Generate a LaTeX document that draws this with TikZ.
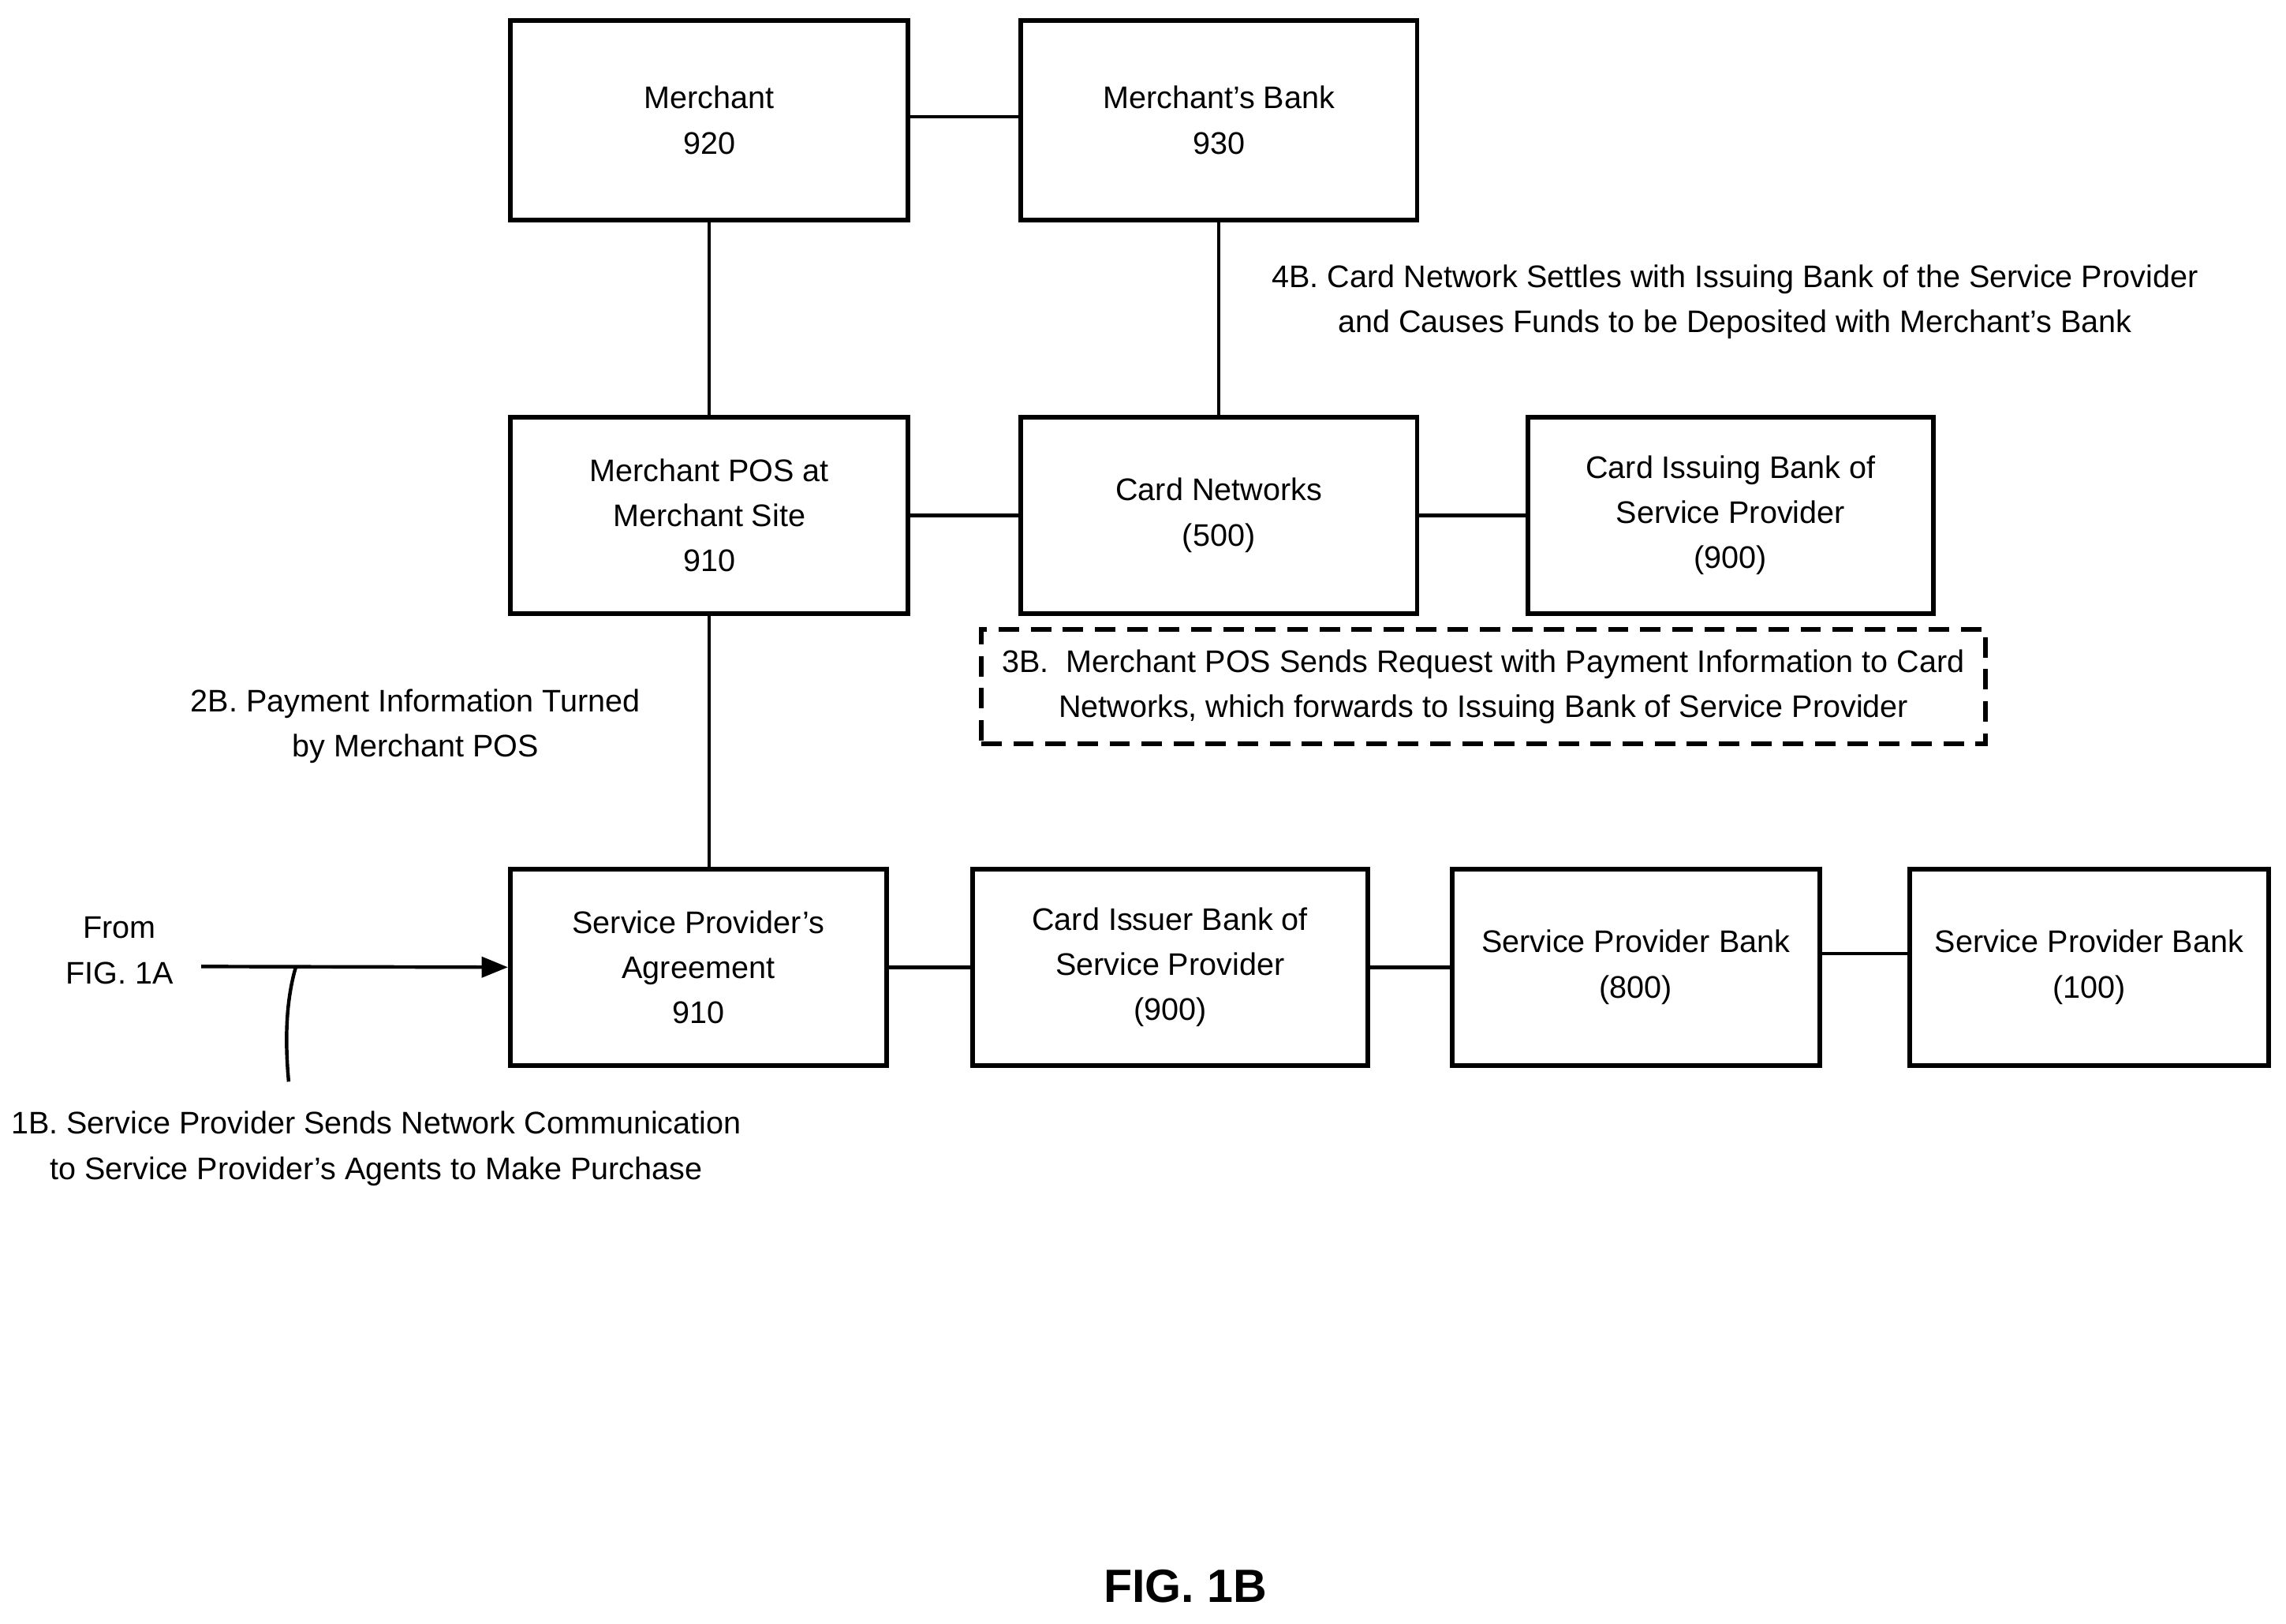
\documentclass[tikz,border=0pt]{standalone}
\usepackage{fontspec}
\setmainfont{Liberation Sans}
\usetikzlibrary{arrows.meta}
\begin{document}
\begin{tikzpicture}[x=0.5pt,y=-0.5pt,
  box/.style={draw,line width=1.6pt,inner sep=0pt,align=center,font=\fontsize{10.7}{15.5}\selectfont},
  lbl/.style={align=center,font=\fontsize{10.7}{15.5}\selectfont},
  ln/.style={line width=1.2pt}]
\useasboundingbox (0,0) rectangle (1568,1114);
\node[box,minimum width=136.5pt,minimum height=68.5pt] (m) at (486.5,82.5) {Merchant\\920};
\node[box,minimum width=136pt,minimum height=68.5pt] (mb) at (836,82.5) {Merchant's Bank\\930};
\node[box,minimum width=136.5pt,minimum height=67.5pt] (pos) at (486.5,353.5) {Merchant POS at\\Merchant Site\\910};
\node[box,minimum width=136pt,minimum height=67.5pt] (cn) at (836,353.5) {Card Networks\\(500)};
\node[box,minimum width=139pt,minimum height=67.5pt] (cib) at (1187,353.5) {Card Issuing Bank of\\Service Provider\\(900)};
\node[draw,dashed,line width=1.6pt,dash pattern=on 7pt off 4pt,minimum width=344.5pt,minimum height=39pt,inner sep=0pt,lbl] (d3) at (1017.5,471) {3B.\ \ Merchant POS Sends Request with Payment Information to Card\\Networks, which forwards to Issuing Bank of Service Provider};
\node[box,minimum width=129pt,minimum height=67.5pt] (spa) at (479,663.5) {Service Provider's\\Agreement\\910};
\node[box,minimum width=135.5pt,minimum height=67.5pt] (cibk) at (802.5,663.5) {Card Issuer Bank of\\Service Provider\\(900)};
\node[box,minimum width=126pt,minimum height=67.5pt] (spb8) at (1122,663.5) {Service Provider Bank\\(800)};
\node[box,minimum width=123pt,minimum height=67.5pt] (spb1) at (1433,663.5) {Service Provider Bank\\(100)};
\draw[ln] (m.east|-0,80) -- (mb.west|-0,80);
\draw[ln] (m.south) -- (pos.north);
\draw[ln] (mb.south) -- (cn.north);
\draw[ln] (pos) -- (cn);
\draw[ln] (cn) -- (cib);
\draw[ln] (pos.south) -- (pos.south|-spa.north);
\draw[ln] (spa) -- (cibk);
\draw[ln] (cibk) -- (spb8);
\draw[ln] (spb8.east|-0,654) -- (spb1.west|-0,654);
\node[lbl] (from) at (82,652) {From\\FIG. 1A};
\coordinate (fs) at (138,663);
\draw[ln,-{Triangle[length=9pt,width=7pt]}] (fs) -- (spa.west);
\coordinate (c1) at (203,663);
\coordinate (c2) at (198,742);
\draw[ln] (c1) .. controls (195,690) and (196,720) .. (c2);
\node[lbl] (l1) at (258,788) {1B. Service Provider Sends Network Communication\\to Service Provider's Agents to Make Purchase};
\node[lbl] (l2) at (285,498) {2B. Payment Information Turned\\by Merchant POS};
\node[lbl] (l4) at (1190,207) {4B. Card Network Settles with Issuing Bank of the Service Provider\\and Causes Funds to be Deposited with Merchant's Bank};
\node[font=\bfseries\fontsize{16}{20}\selectfont] (fig) at (813,1088) {FIG. 1B};
\end{tikzpicture}
\end{document}
